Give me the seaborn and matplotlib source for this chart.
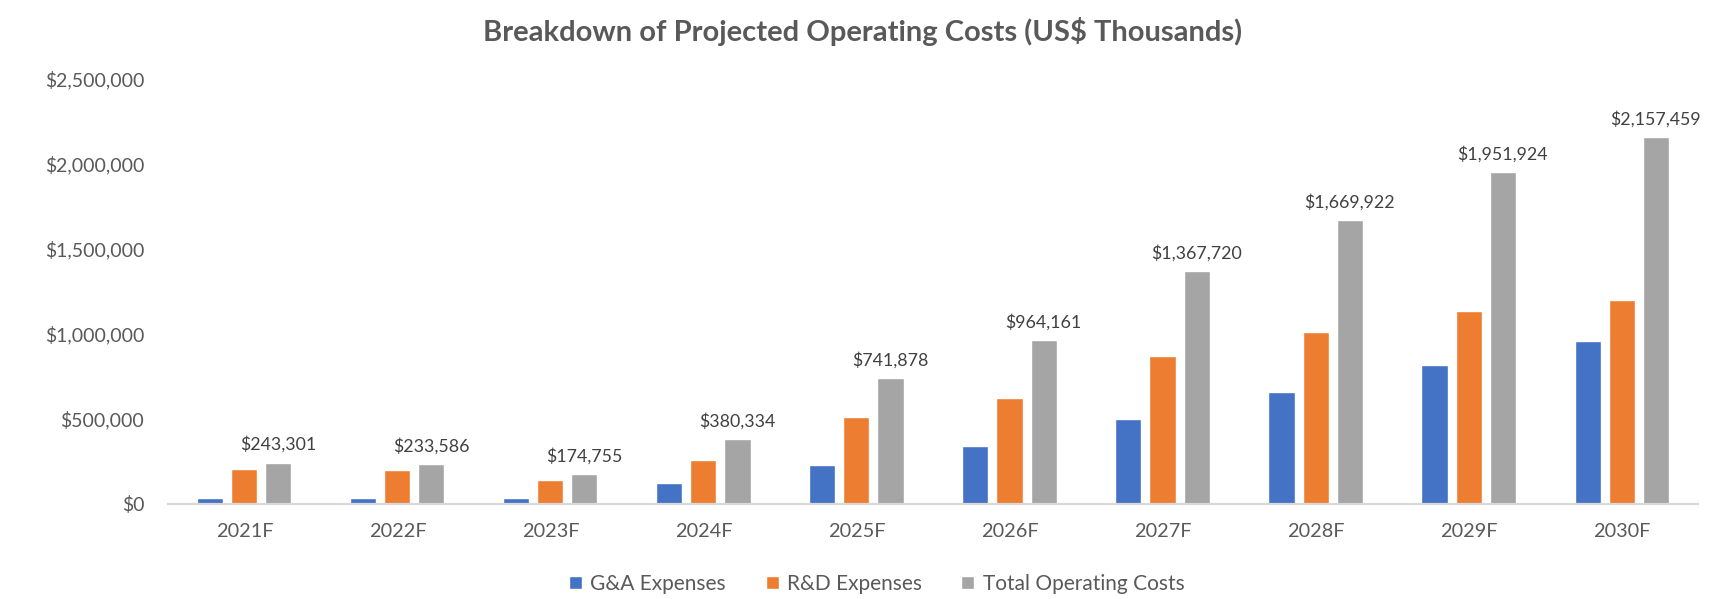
import matplotlib
matplotlib.use("Agg")
import matplotlib.pyplot as plt
import matplotlib.ticker as mticker
import seaborn as sns
import pandas as pd

years = ["2021F", "2022F", "2023F", "2024F", "2025F", "2026F", "2027F", "2028F", "2029F", "2030F"]
ga_expenses = [35000, 34000, 34000, 123000, 228000, 339000, 500000, 657000, 818000, 958000]
rd_expenses = [208301, 199586, 140755, 257334, 513878, 625161, 867720, 1012922, 1133924, 1199459]
total_costs = [243301, 233586, 174755, 380334, 741878, 964161, 1367720, 1669922, 1951924, 2157459]
series_names = ["G&A Expenses", "R&D Expenses", "Total Operating Costs"]
colors = ["#4472C4", "#ED7D31", "#A5A5A5"]

rows = []
for name, vals in zip(series_names, [ga_expenses, rd_expenses, total_costs]):
    for y, v in zip(years, vals):
        rows.append({"Year": y, "Series": name, "Value": v})
df = pd.DataFrame(rows)

sns.set_theme(style="white")
plt.rcParams["font.family"] = ["Lato", "DejaVu Sans"]

fig = plt.figure(figsize=(17.26, 5.99), dpi=100)
ax = fig.add_axes([0.0973, 0.1586, 0.8865, 0.7096])

sns.barplot(data=df, x="Year", y="Value", hue="Series", palette=colors,
            width=0.667, gap=0.235, ax=ax, saturation=1, legend=True)

ax.set_ylim(0, 2500000)
ax.set_xlim(-0.5, len(years) - 0.5)
ax.yaxis.set_major_locator(mticker.MultipleLocator(500000))
ax.yaxis.set_major_formatter(mticker.FuncFormatter(lambda v, p: f"${v:,.0f}"))
ax.set_xlabel("")
ax.set_ylabel("")
for s in ["top", "right", "left"]:
    ax.spines[s].set_visible(False)
ax.spines["bottom"].set_color("#D9D9D9")
ax.spines["bottom"].set_linewidth(1.6)
ax.tick_params(axis="y", length=0, pad=17, labelsize=14, labelcolor="#595959")
ax.tick_params(axis="x", length=0, pad=14, labelsize=14.3, labelcolor="#595959")
ax.grid(False)

ax.bar_label(ax.containers[2], labels=[f"${v:,.0f}" for v in total_costs],
             padding=7, fontsize=12.8, color="#404040")

handles, labels = ax.get_legend_handles_labels()
ax.legend_.remove()
fig.legend(handles, labels, loc="center", bbox_to_anchor=(0.508, 0.025), ncol=3,
           frameon=False, fontsize=15, labelcolor="#595959",
           handlelength=0.62, handleheight=0.62, handletextpad=0.4, columnspacing=1.9)

fig.text(0.5, 0.9466, "Breakdown of Projected Operating Costs (US$ Thousands)",
         ha="center", va="center", fontsize=21, fontweight="bold", color="#595959")

fig.savefig("out.png", dpi=100)
